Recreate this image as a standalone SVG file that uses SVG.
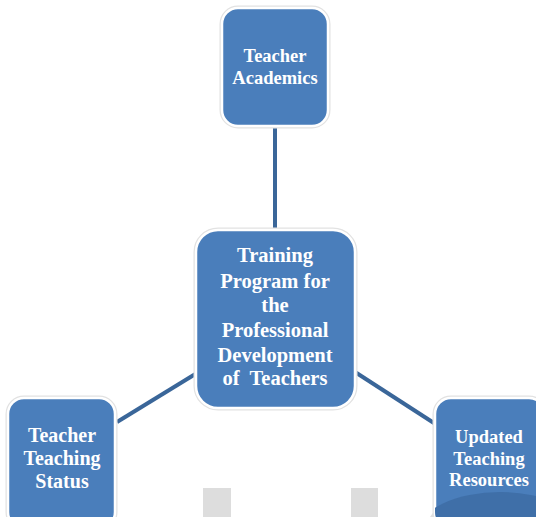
<svg xmlns="http://www.w3.org/2000/svg" width="536" height="517" viewBox="0 0 536 517">
<style>
.halo{fill:none;stroke:#e2e2e2;stroke-width:5}
.box{fill:#4a7ebb;stroke:#ffffff;stroke-width:2.5}
.t{font-family:"Liberation Serif","Times New Roman",serif;font-weight:bold;fill:#ffffff;text-anchor:middle}
.c{stroke:#3a6699;stroke-width:4;fill:none;stroke-linecap:butt}
</style>
<defs>
<clipPath id="rc"><rect x="435" y="398" width="110" height="130" rx="16"/></clipPath>
</defs>
<rect x="203" y="488" width="28" height="29" fill="#dddddd"/>
<rect x="351" y="488" width="27" height="29" fill="#dddddd"/>
<polygon points="430,517 442,500 445,517" fill="#e0e0e0"/>
<g id="connectors">
<line class="c" x1="275" y1="126" x2="275" y2="230"/>
<line class="c" x1="117" y1="422" x2="197" y2="373"/>
<line class="c" x1="355" y1="372" x2="437" y2="425"/>
</g>
<g id="top">
<rect class="halo" x="222" y="8" width="106" height="118" rx="16"/>
<rect class="box" x="222" y="8" width="106" height="118" rx="16"/>
<text class="t" font-size="18.5" x="275" y="62">Teacher</text>
<text class="t" font-size="18.5" x="275" y="84">Academics</text>
</g>
<g id="center">
<rect class="halo" x="196" y="230" width="159" height="178" rx="22"/>
<rect class="box" x="196" y="230" width="159" height="178" rx="22"/>
<text class="t" font-size="20.5" x="275" y="262">Training</text>
<text class="t" font-size="20.5" x="275" y="288">Program for</text>
<text class="t" font-size="20.5" x="275" y="312">the</text>
<text class="t" font-size="20.5" x="275" y="337">Professional</text>
<text class="t" font-size="20.5" x="275" y="362">Development</text>
<text class="t" font-size="20.5" x="275" y="385">of&#160; Teachers</text>
</g>
<g id="left">
<rect class="halo" x="8" y="398" width="107" height="130" rx="16"/>
<rect class="box" x="8" y="398" width="107" height="130" rx="16"/>
<text class="t" font-size="20" x="62" y="442">Teacher</text>
<text class="t" font-size="20" x="62" y="465">Teaching</text>
<text class="t" font-size="20" x="62" y="488">Status</text>
</g>
<g id="right">
<rect class="halo" x="435" y="398" width="110" height="130" rx="16"/>
<rect class="box" x="435" y="398" width="110" height="130" rx="16"/>
<ellipse cx="500" cy="530" rx="80" ry="38" fill="#3f6fa8" clip-path="url(#rc)"/>
<text class="t" font-size="18.5" x="489" y="443">Updated</text>
<text class="t" font-size="18.5" x="489" y="465">Teaching</text>
<text class="t" font-size="18.5" x="489" y="486">Resources</text>
</g>
</svg>
